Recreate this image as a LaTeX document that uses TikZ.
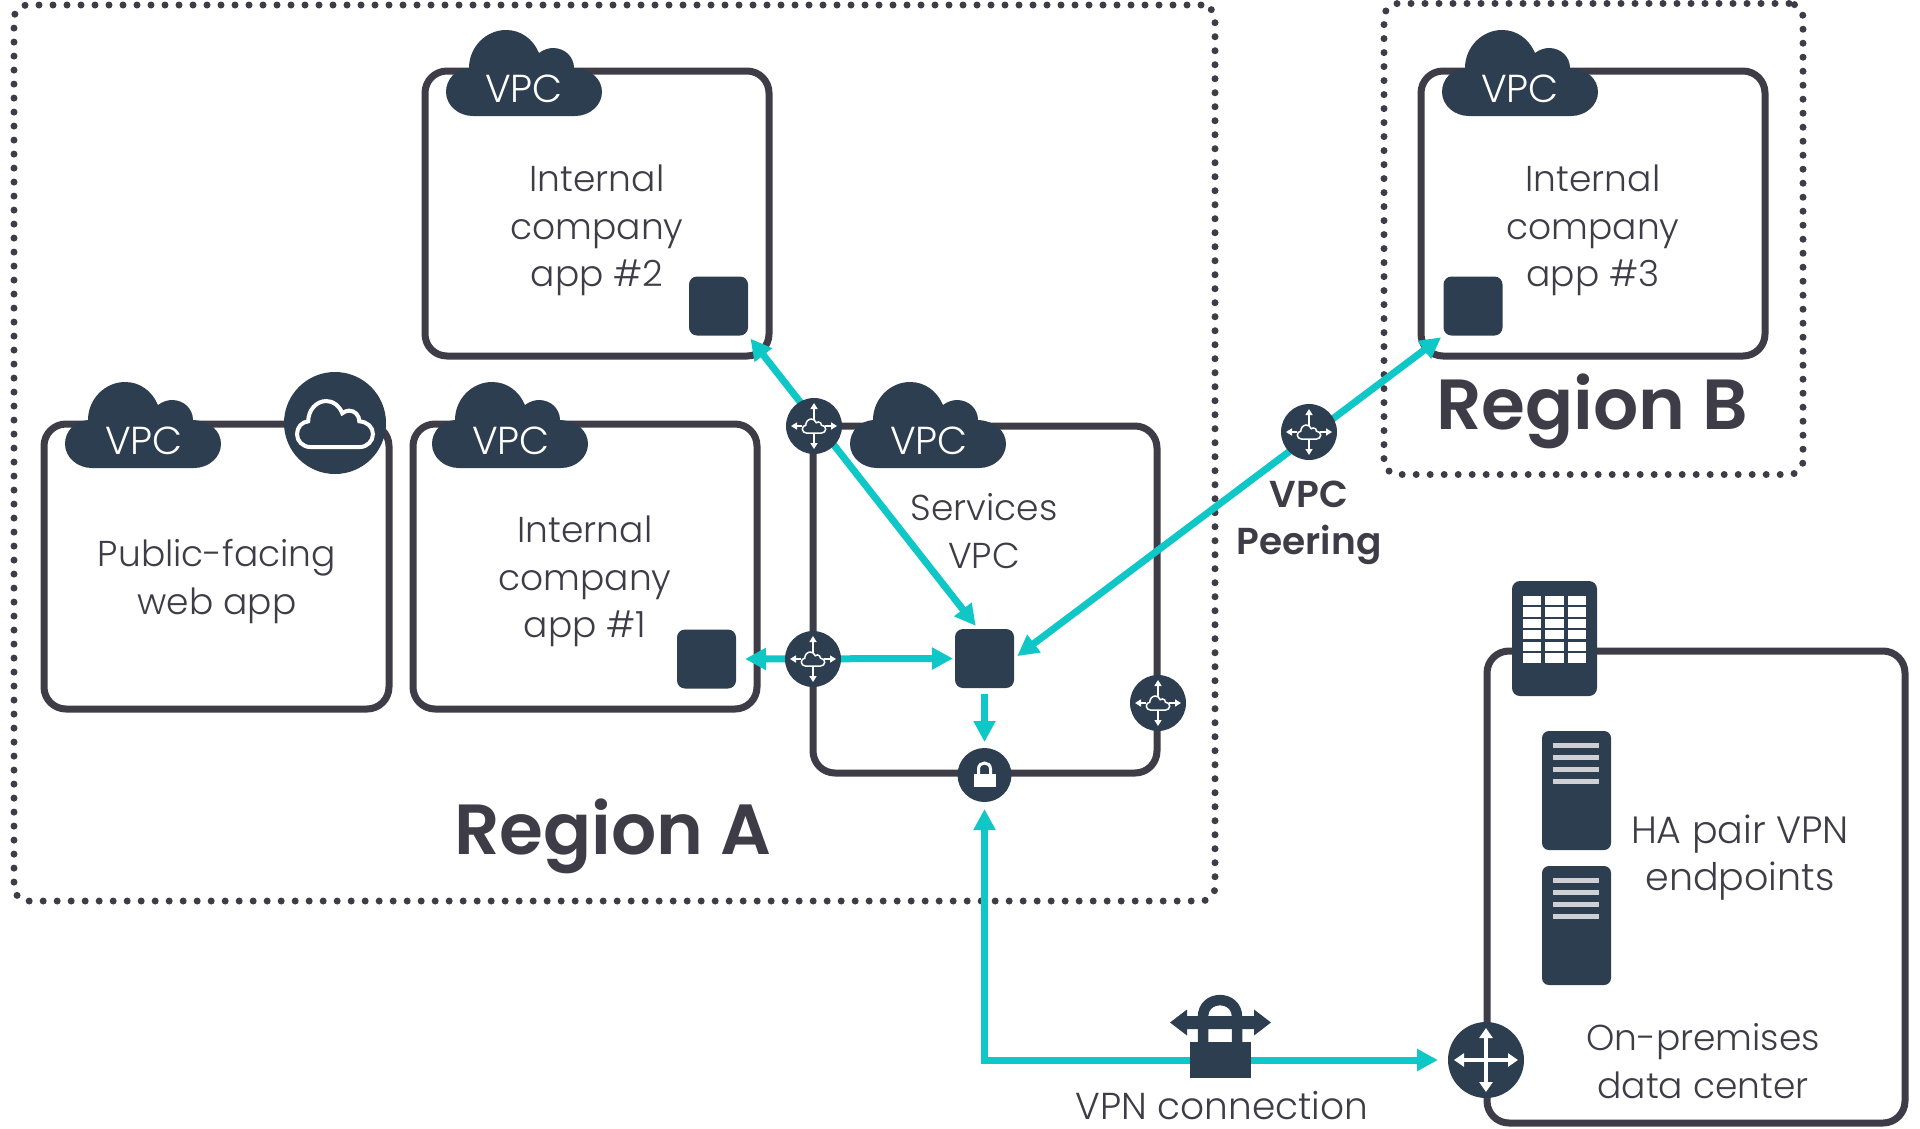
\documentclass[tikz,border=0pt]{standalone}
\usepackage{fontspec}
\setmainfont{Poppins Light}
\newfontfamily\boldf{Poppins SemiBold}
\usetikzlibrary{arrows.meta,calc}
\definecolor{navy}{HTML}{2D3E50}
\definecolor{edge}{HTML}{3E3C46}
\definecolor{teal2}{HTML}{10C7C7}
\definecolor{glyphgrey}{HTML}{D0D0D4}
\pgfdeclarelayer{fg}
\pgfsetlayers{main,fg}
\tikzset{
  vpcbox/.style={draw=edge,line width=7pt,rounded corners=22pt,fill=none,inner sep=0pt,outer sep=0pt},
  regionbox/.style={draw=edge,line width=7pt,line cap=round,dash pattern=on 0pt off 14pt,rounded corners=14pt,inner sep=0pt,outer sep=0pt},
  instance/.style={fill=navy,rounded corners=8pt,minimum width=59pt,minimum height=59pt,inner sep=0pt,outer sep=0pt},
  router/.style={circle,fill=navy,minimum size=56pt,inner sep=0pt,outer sep=0pt},
  link/.style={draw=teal2,line width=7pt,>={Triangle[length=21pt,width=21pt]}},
  txt/.style={text=edge,align=center,font=\fontsize{36}{47.5}\selectfont,inner sep=0pt},
  onetxt/.style={text=edge,font=\fontsize{37.5}{40}\selectfont,inner sep=0pt},
  hatxt/.style={text=edge,align=center,font=\fontsize{38}{47.5}\selectfont,inner sep=0pt},
  vpctxt/.style={text=white,font=\fontsize{39}{40}\selectfont,inner sep=0pt},
  regiontxt/.style={text=edge,font=\boldf\fontsize{71}{74}\selectfont,inner sep=0pt},
  boldtxt/.style={text=edge,align=center,font=\boldf\fontsize{37.5}{47.5}\selectfont,inner sep=0pt},
  cloudp/.pic={\path[pic actions] (27,86) -- (129,86) .. controls (144,86) and (156,75) .. (156,62)
      .. controls (156,49) and (145,39) .. (128,38) .. controls (128,27) and (119,18) .. (107,18)
      .. controls (102,18) and (97,20) .. (93,23) .. controls (87,9) and (75,0) .. (60,0)
      .. controls (40,0) and (23,17) .. (23,38) .. controls (10,39) and (0,49) .. (0,62)
      .. controls (0,75) and (12,86) .. (27,86) -- cycle;},
  routerg/.pic={
    \draw[white,line width=1.5pt,-{Triangle[length=6pt,width=7pt]}] (-12,0) -- (-23,0);
    \draw[white,line width=1.5pt,-{Triangle[length=6pt,width=7pt]}] (11,0) -- (23,0);
    \draw[white,line width=1.5pt,-{Triangle[length=6pt,width=7pt]}] (0,-6) -- (0,-23);
    \draw[white,line width=1.5pt,-{Triangle[length=6pt,width=7pt]}] (0,7) -- (0,23);
    \pic[draw=white,fill=navy,line width=1.5pt,xscale=.15,yscale=.163] at (-11.7,-7) {cloudp};
  },
  serverg/.pic={
    \foreach \yy in {14,26,38,50} \fill[glyphgrey] (-23,\yy-2.5) rectangle (23,\yy+2.5);
  },
}
\begin{document}
\begin{tikzpicture}[x=1pt,y=-1pt]
\useasboundingbox (0,0) rectangle (1920,1128);
% regions
\node[regionbox,minimum width=1201pt,minimum height=896pt] (regA) at (614.5,453) {};
\node[regionbox,minimum width=419pt,minimum height=471pt] (regB) at (1593.5,239) {};
% vpc boxes
\node[vpcbox,minimum width=344pt,minimum height=285pt] (vpc2) at (597,213.5) {};
\node[vpcbox,minimum width=344pt,minimum height=285pt] (vpc3) at (1593,213.5) {};
\node[vpcbox,minimum width=345pt,minimum height=285pt] (vpcpub) at (216.5,566.5) {};
\node[vpcbox,minimum width=344pt,minimum height=285pt] (vpc1) at (585,566.5) {};
\node[vpcbox,minimum width=344pt,minimum height=347pt] (vpcs) at (985,599.5) {};
\node[vpcbox,minimum width=418pt,minimum height=472pt] (dc) at (1696,887) {};
% instances
\node[instance] (sq2) at (718.5,306) {};
\node[instance] (sq3) at (1473,306) {};
\node[instance] (sq1) at (706.5,659) {};
\node[instance] (sqs) at (984.5,658.5) {};
\begin{pgfonlayer}{fg}
% clouds
\pic[fill=navy] at (446,30) {cloudp};
\pic[fill=navy] at (1442,30) {cloudp};
\pic[fill=navy] at (65,382) {cloudp};
\pic[fill=navy] at (432,382) {cloudp};
\pic[fill=navy] at (850,382) {cloudp};
\node[vpctxt] (v2) at (524,89) {VPC};
\node[vpctxt] (v3) at (1520,89) {VPC};
\node[vpctxt] (vp) at (144,441) {VPC};
\node[vpctxt] (v1) at (511,441) {VPC};
\node[vpctxt] (vs) at (929,441) {VPC};
% routers
\node[router] (r2) at (814,426) {};
\node[router] (r1) at (813,659) {};
\node[router] (r3) at (1158,703) {};
\node[router] (rp) at (1309,432) {};
\node[circle,fill=navy,minimum size=54pt,inner sep=0pt,outer sep=0pt] (lock) at (984.5,775) {};
\node[circle,fill=navy,minimum size=76pt,inner sep=0pt,outer sep=0pt] (big) at (1486,1060) {};
\node[circle,fill=navy,minimum size=102pt,inner sep=0pt,outer sep=0pt] (igw) at (335,423) {};
\foreach \n in {r2,r1,r3,rp} \pic at (\n) {routerg};
% igw cloud
\pic[draw=white,line width=4pt,xscale=.487,yscale=.535] at (297,401) {cloudp};
% lock glyph
\fill[white] ($(lock)+(-11,-1)$) rectangle ($(lock)+(11,12)$);
\draw[white,line width=3pt] ($(lock)+(-6,0)$) -- ($(lock)+(-6,-6)$) .. controls ($(lock)+(-6,-14)$) and ($(lock)+(6,-14)$) .. ($(lock)+(6,-6)$) -- ($(lock)+(6,0)$);
% big router arrows
\draw[white,line width=4pt,{Triangle[length=10pt,width=13pt]}-{Triangle[length=10pt,width=13pt]}] ($(big)+(-32,0)$) -- ($(big)+(32,0)$);
\draw[white,line width=4pt,{Triangle[length=10pt,width=13pt]}-{Triangle[length=10pt,width=13pt]}] ($(big)+(0,-32)$) -- ($(big)+(0,32)$);
% data centre
\node[fill=navy,rounded corners=8pt,minimum width=85pt,minimum height=115pt,inner sep=0pt] (dcicon) at (1554.5,638.5) {};
\foreach \yy in {596,607.4,619,630.2,642,653.3}
  \foreach \xx in {1523,1545.3,1567.7}
    \fill[white] (\xx,\yy) rectangle ++(18.3,9.2);
% servers
\node[fill=navy,rounded corners=7pt,minimum width=69pt,minimum height=119pt,inner sep=0pt] (srv1) at (1576.5,790.5) {};
\node[fill=navy,rounded corners=7pt,minimum width=69pt,minimum height=119pt,inner sep=0pt] (srv2) at (1576.5,925.5) {};
\pic at (1576,731) {serverg};
\pic at (1576,866) {serverg};
% vpn icon
\node[fill=navy,minimum width=61pt,minimum height=36pt,inner sep=0pt] (vpnlock) at (1220.5,1060) {};
\draw[navy,line width=10.5pt] (1203,1042) -- (1203,1017) .. controls (1203,994.5) and (1237,994.5) .. (1237,1017) -- (1237,1042);
\fill[navy] (1170,1022.5) -- (1187,1009.5) -- (1187,1016) -- (1254,1016) -- (1254,1009.5) -- (1271,1022.5) -- (1254,1035.5) -- (1254,1029) -- (1187,1029) -- (1187,1035.5) -- cycle;
\end{pgfonlayer}
% connectors
\draw[link,<->,shorten <=4pt,shorten >=4pt] (sq2.south east) -- (sqs.102);
\draw[link,<->,shorten <=3pt,shorten >=4pt] (sq3.south west) -- (sqs.east);
\draw[link,<->,shorten <=9pt,shorten >=2pt] (sq1.east) -- (sqs.west);
\draw[link,->,shorten <=6pt,shorten >=6pt] (sqs.south) -- (lock.north);
\draw[link,<->,shorten <=7pt,shorten >=10pt] (lock.south) |- (big.west);
% texts
\node[txt] (t2) at (597,230.5) {Internal\\company\\app \#2};
\node[txt] (t3) at (1593,230.5) {Internal\\company\\app \#3};
\node[txt] (t1) at (585,581.5) {Internal\\company\\app \#1};
\node[txt] (tp) at (217,581.5) {Public-facing\\web app};
\node[txt] (ts) at (984,531) {Services\\VPC};
\node[hatxt] (th) at (1740,857.5) {HA pair VPN\\endpoints};
\node[txt] (tc) at (1703,1061) {On-premises\\data center};
\node[onetxt] (tv) at (1222,1106) {VPN connection};
\node[regiontxt] (ra) at (613,836) {Region A};
\node[regiontxt] (rb) at (1592,411) {Region B};
\node[boldtxt] (tpe) at (1309,523) {VPC\\Peering};
\end{tikzpicture}
\end{document}
